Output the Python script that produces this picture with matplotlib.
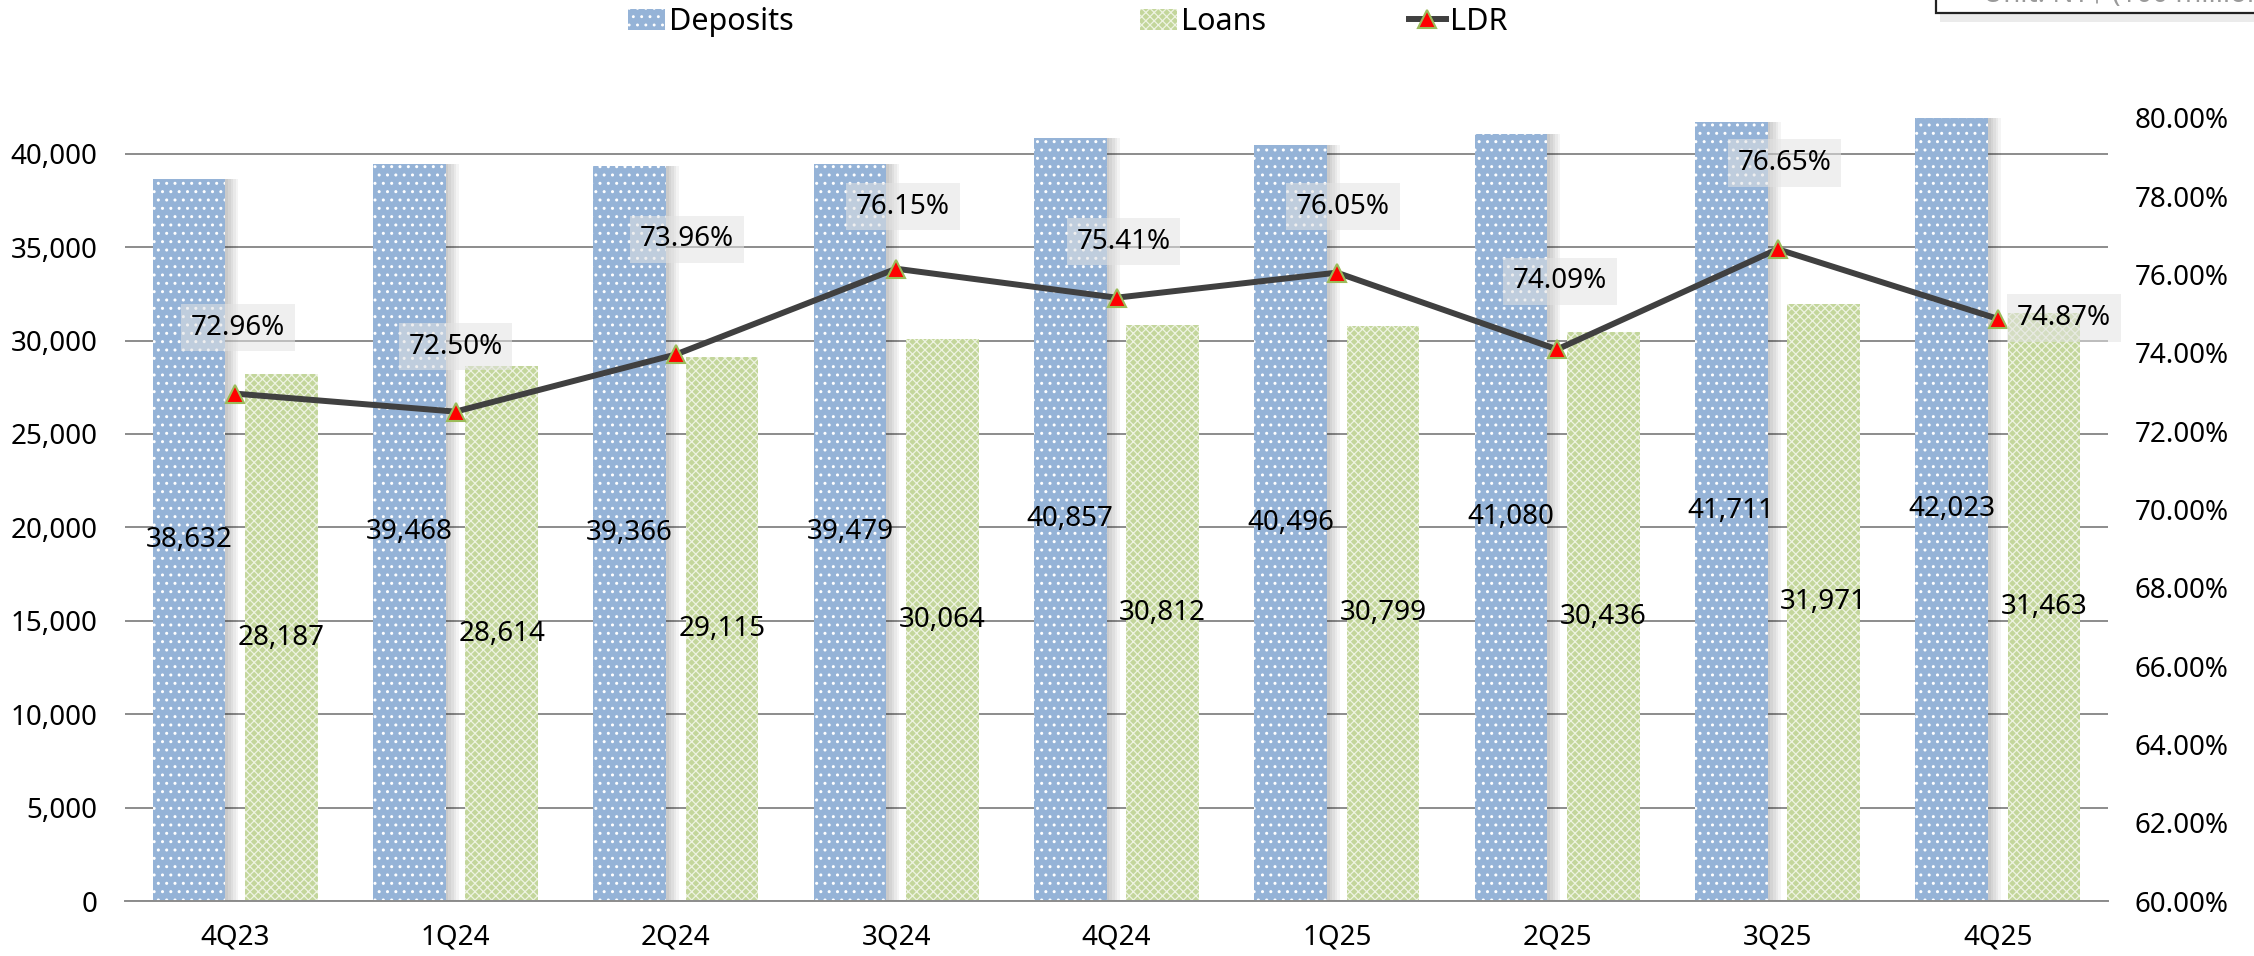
import matplotlib
matplotlib.use("Agg")
import matplotlib.pyplot as plt
import numpy as np
from matplotlib.lines import Line2D
from matplotlib.patches import Rectangle

plt.rcParams['font.family'] = ['Noto Sans', 'DejaVu Sans']
plt.rcParams['font.size'] = 20

quarters = ["4Q23", "1Q24", "2Q24", "3Q24", "4Q24", "1Q25", "2Q25", "3Q25", "4Q25"]
deposits = [38632, 39468, 39366, 39479, 40857, 40496, 41080, 41711, 42023]
loans = [28187, 28614, 29115, 30064, 30812, 30799, 30436, 31971, 31463]
ldr = [72.96, 72.50, 73.96, 76.15, 75.41, 76.05, 74.09, 76.65, 74.87]

# where each LDR label sits relative to its point (pixels), as placed in the source chart
ldr_label_offsets = [(3, 66), (0, 65), (11, 115), (7, 62), (7, 56), (6, 66), (3, 68), (7, 86), (66, 1)]

W, H = 2254, 956
fig = plt.figure(figsize=(W / 100, H / 100), dpi=100)
ax = fig.add_axes([125 / W, 1 - 901 / H, (2108 - 125) / W, (901 - 118) / H])
ax2 = ax.twinx()

x = np.arange(len(quarters))
bw = 0.33
off = 0.21

# soft shadow behind the deposit bars
for i in range(1, 6):
    ax.bar(x - off + i * 0.012, deposits, bw, color='black', alpha=0.045, linewidth=0, zorder=1)

plt.rcParams['hatch.linewidth'] = 1.0
b1 = ax.bar(x - off, deposits, bw, color='#95b3d7', edgecolor='white', linewidth=0,
            hatch='..', label='Deposits', zorder=2)
plt.rcParams['hatch.linewidth'] = 0.9
b2 = ax.bar(x + off, loans, bw, color='#c3d69b', edgecolor='#eef3e2', linewidth=0,
            hatch='xxxx', label='Loans', zorder=2)

for xi, v in zip(x, deposits):
    ax.text(xi - off, v / 2, f"{v:,}", ha='center', va='center', fontsize=20, zorder=5)
for xi, v in zip(x, loans):
    ax.text(xi + off, v / 2, f"{v:,}", ha='center', va='center', fontsize=20, zorder=5)

ax.set_xlim(-0.5, len(quarters) - 0.5)
ax.set_ylim(0, 41916)
ax.set_yticks(np.arange(0, 40001, 5000))
ax.set_yticklabels([f"{t:,}" for t in range(0, 40001, 5000)])
ax.set_xticks(x)
ax.set_xticklabels(quarters)
ax.tick_params(axis='both', length=0, labelsize=20)
ax.tick_params(axis='y', pad=20)
ax.tick_params(axis='x', pad=16)
ax.grid(axis='y', color='#8c8c8c', linewidth=1.4)
ax.set_axisbelow(True)
for s in ['top', 'left', 'right']:
    ax.spines[s].set_visible(False)
ax.spines['bottom'].set_color('#8c8c8c')
ax.spines['bottom'].set_linewidth(1.4)

ax2.plot(x, ldr, color='#404040', linewidth=4.3, marker='^', markersize=13,
         markerfacecolor='#ff0000', markeredgecolor='#9bbb59', markeredgewidth=1.5, zorder=4)
ax2.set_ylim(60, 80)
ax2.set_yticks(np.arange(60, 80.1, 2))
ax2.set_yticklabels([f"{t:.2f}%" for t in np.arange(60, 80.1, 2)])
ax2.tick_params(axis='y', length=0, labelsize=20, pad=19)
for s in ax2.spines.values():
    s.set_visible(False)

for xi, v, (dx, dy) in zip(x, ldr, ldr_label_offsets):
    ax2.annotate(f"{v:.2f}%", (xi, v), xytext=(dx, dy), textcoords='offset pixels',
                 ha='center', va='center', fontsize=20, zorder=6,
                 bbox=dict(boxstyle='square,pad=0.35', facecolor='#e3e3e3', edgecolor='none', alpha=0.55))

# legend spread across the top
ldr_handle = Line2D([], [], color='#404040', linewidth=4.3, marker='^', markersize=13,
                    markerfacecolor='#ff0000', markeredgecolor='#9bbb59', markeredgewidth=1.5)
for h, lab, xp in [(b1, 'Deposits', 628), (b2, 'Loans', 1140), (ldr_handle, 'LDR', 1409)]:
    fig.legend([h], [lab], loc='center left', bbox_to_anchor=(xp / W, 1 - 22 / H),
               frameon=False, borderpad=0, borderaxespad=0, handlelength=1.2,
               handleheight=0.7, handletextpad=0.15, fontsize=22)

# unit box in the corner, mostly cut off by the top edge
fig.patches.append(Rectangle((1940 / W, 1 - 22 / H), 0.2, 0.1, transform=fig.transFigure,
                             facecolor='#d9d9d9', edgecolor='none', alpha=0.5, zorder=0))
fig.patches.append(Rectangle((1936 / W, 1 - 13 / H), 0.2, 0.1, transform=fig.transFigure,
                             facecolor='white', edgecolor='#222222', linewidth=1.6, zorder=1))
fig.text(1983 / W, 1 - 2 / H, "Unit: NT$ (100 million)", color='#9a9a9a', fontsize=20,
         ha='left', va='baseline', zorder=2)

fig.savefig("out.png", dpi=100)
